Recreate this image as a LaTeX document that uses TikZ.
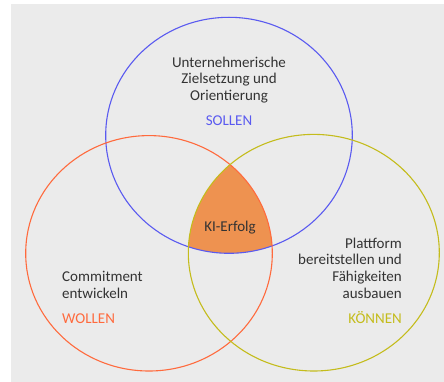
\documentclass[tikz,border=0pt]{standalone}
\usepackage{fontspec}
\setmainfont{Carlito}
\usetikzlibrary{positioning}

\definecolor{sollblue}{HTML}{5A5AF0}
\definecolor{wollred}{HTML}{FF6A3D}
\definecolor{koennyel}{HTML}{C4BC1C}
\definecolor{kifill}{HTML}{EE9250}
\definecolor{bggray}{HTML}{EBEBEB}
\definecolor{txtgray}{HTML}{333333}

\begin{document}
\begin{tikzpicture}[x=1pt,y=-1pt,
		ring/.style={line width=1.1pt},
		label/.style={font=\fontsize{15}{16.7}\selectfont, text=txtgray, inner sep=0pt},
		tag/.style={font=\fontsize{15}{16.7}\selectfont, inner sep=0pt}]
		\useasboundingbox (0,0) rectangle (444,382);
		\fill[bggray] (11,4) rectangle (444,382);
		% intersection
		\begin{scope}
			\clip (229,135.3) ellipse [x radius=123.3, y radius=118];
			\clip (149,253.3) ellipse [x radius=123.3, y radius=117.7];
			\fill[kifill] (313.8,252.7) ellipse [x radius=125.5, y radius=118.3];
		\end{scope}
		\draw[ring, sollblue] (229,135.3) ellipse [x radius=123.3, y radius=118];
		\draw[ring, wollred] (149,253.3) ellipse [x radius=123.3, y radius=117.7];
		\draw[ring, koennyel] (313.8,252.7) ellipse [x radius=125.5, y radius=118.3];
		% texts
		\node[label, align=center] (ziel) at (229,80) {Unternehmerische\\Zielsetzung und\\Orientierung};
		\node[tag, text=sollblue] (soll) at (229,121) {SOLLEN};
		\node[label] (ki) at (230,228) {KI-Erfolg};
		\node[label, align=right, anchor=east] (platt) at (402,268) {Plattform\\bereitstellen und\\Fähigkeiten\\ausbauen};
		\node[tag, text=koennyel, anchor=east] (koenn) at (402,318) {KÖNNEN};
		\node[label, align=left, anchor=west] (commit) at (62,285) {Commitment\\entwickeln};
		\node[tag, text=wollred, anchor=west] (woll) at (62,319) {WOLLEN};
	\end{tikzpicture}
\end{document}
